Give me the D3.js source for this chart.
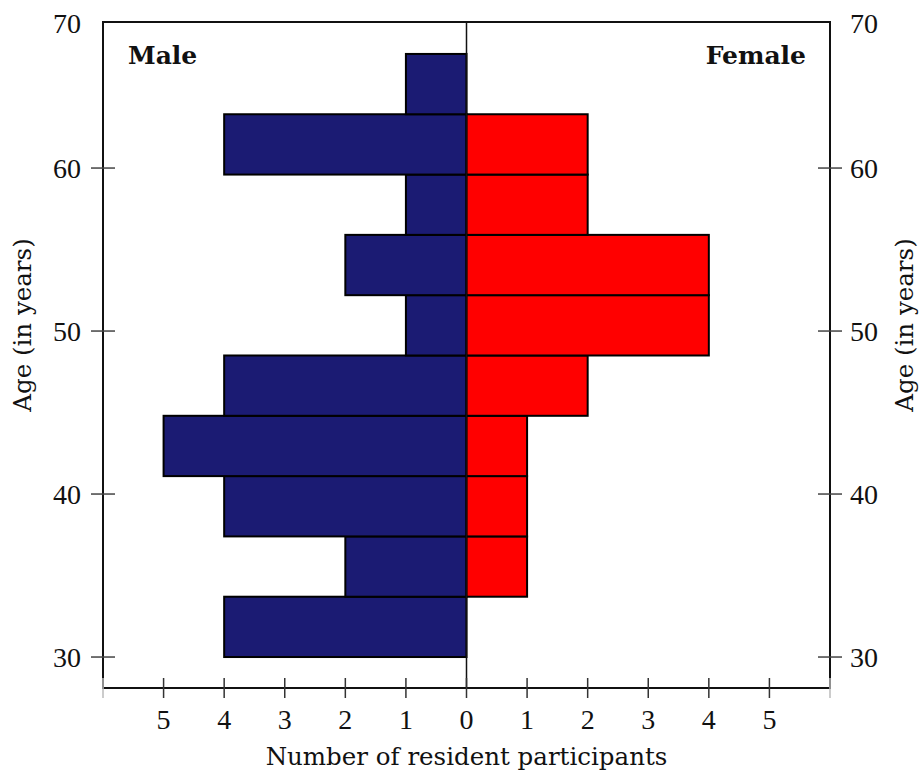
<!DOCTYPE html>
<html><head><meta charset="utf-8">
<script src="https://cdn.jsdelivr.net/npm/d3@7"></script>
<style>body{margin:0;background:#fff}svg{display:block}</style>
</head><body>
<svg id="c" width="920" height="774"></svg>
<script>
const binStarts = [30, 33.7, 37.4, 41.1, 44.8, 48.5, 52.2, 55.9, 59.6, 63.3];
const binWidth = 3.7;
const male =   [4, 2, 4, 5, 4, 1, 2, 1, 4, 1];
const female = [0, 1, 1, 1, 2, 4, 4, 2, 2, 0];
const xTicks = [-6, -5, -4, -3, -2, -1, 0, 1, 2, 3, 4, 5, 6];
const xTickLabels = ["", "5", "4", "3", "2", "1", "0", "1", "2", "3", "4", "5", ""];
const yTicks = [30, 40, 50, 60];
const yTopLabel = "70";

const svg = d3.select("#c");
const L = 103, R = 830, T = 22, B = 688;
const x = d3.scaleLinear().domain([-6, 6]).range([L, R]);
const y = d3.scaleLinear().domain([28.1, 68.96]).range([B, T]);
const font = "'DejaVu Serif', 'Liberation Serif', serif";
const numFont = "'Liberation Serif', 'DejaVu Serif', serif";

// bars
const g = svg.append("g");
g.selectAll("rect.m").data(binStarts).join("rect")
  .attr("x", (d, i) => x(-male[i])).attr("width", (d, i) => x(0) - x(-male[i]))
  .attr("y", d => y(d + binWidth)).attr("height", d => y(d) - y(d + binWidth))
  .attr("fill", "#1b1b73").attr("stroke", "#000").attr("stroke-width", 2)
  .style("display", (d, i) => male[i] > 0 ? null : "none");
g.selectAll("rect.f").data(binStarts).join("rect")
  .attr("x", x(0)).attr("width", (d, i) => x(female[i]) - x(0))
  .attr("y", d => y(d + binWidth)).attr("height", d => y(d) - y(d + binWidth))
  .attr("fill", "#ff0000").attr("stroke", "#000").attr("stroke-width", 2)
  .style("display", (d, i) => female[i] > 0 ? null : "none");

// frame
svg.append("rect").attr("x", L).attr("y", T).attr("width", R - L).attr("height", B - T)
  .attr("fill", "none").attr("stroke", "#111").attr("stroke-width", 2);
svg.append("line").attr("x1", x(0)).attr("x2", x(0)).attr("y1", T).attr("y2", B)
  .attr("stroke", "#111").attr("stroke-width", 1.5);

// x ticks
const tk = 10;
svg.append("g").selectAll("line").data(xTicks).join("line")
  .attr("x1", d => x(d)).attr("x2", d => x(d)).attr("y1", B - tk).attr("y2", B + tk)
  .attr("stroke", (d) => Math.abs(d) === 6 ? "#bbb" : "#333").attr("stroke-width", 1.5);
svg.append("g").selectAll("text").data(xTicks).join("text")
  .attr("x", d => x(d)).attr("y", 729).attr("text-anchor", "middle")
  .attr("font-family", numFont).attr("font-size", 28).attr("fill", "#111")
  .text((d, i) => xTickLabels[i]);

// y ticks both sides
[L, R].forEach((px, side) => {
  svg.append("g").selectAll("line").data(yTicks).join("line")
    .attr("x1", px - 12).attr("x2", px + 12).attr("y1", d => y(d)).attr("y2", d => y(d))
    .attr("stroke", "#444").attr("stroke-width", 1.5);
  svg.append("g").selectAll("text").data(yTicks.map(String).concat([yTopLabel])).join("text")
    .attr("x", side === 0 ? px - 22 : px + 20)
    .attr("y", (d, i) => (i < yTicks.length ? y(yTicks[i]) : T + 1) + 9.5)
    .attr("text-anchor", side === 0 ? "end" : "start")
    .attr("font-family", numFont).attr("font-size", 28).attr("fill", "#111")
    .text(d => d);
});

// axis titles
svg.append("text").attr("x", x(0)).attr("y", 765).attr("text-anchor", "middle")
  .attr("font-family", font).attr("font-size", 24.5).attr("fill", "#111")
  .text("Number of resident participants");
[22, 904].forEach(px => {
  svg.append("text").attr("transform", `translate(${px + 9},${325}) rotate(-90)`)
    .attr("text-anchor", "middle").attr("font-family", font).attr("font-size", 24.5).attr("fill", "#111")
    .text("Age (in years)");
});

// side labels
svg.append("text").attr("x", 128).attr("y", 64).attr("font-family", font)
  .attr("font-size", 25).attr("font-weight", "bold").attr("fill", "#111").text("Male");
svg.append("text").attr("x", 806).attr("y", 64).attr("text-anchor", "end").attr("font-family", font)
  .attr("font-size", 25).attr("font-weight", "bold").attr("fill", "#111").text("Female");
</script>
</body></html>
